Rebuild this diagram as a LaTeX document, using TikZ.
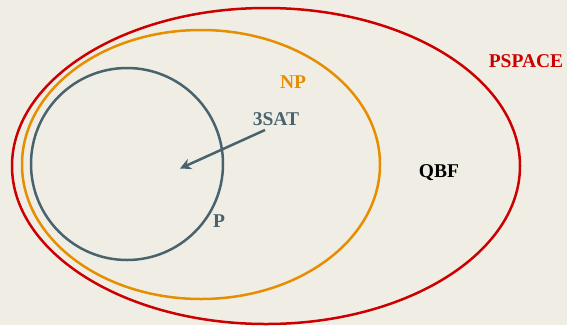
\documentclass[tikz,border=0pt]{standalone}
\usepackage{fontspec}
\setmainfont{Liberation Serif}
\usetikzlibrary{arrows.meta}
\definecolor{bg}{RGB}{240,238,228}
\definecolor{cred}{RGB}{204,0,0}
\definecolor{corange}{RGB}{230,142,0}
\definecolor{cslate}{RGB}{72,98,110}
\begin{document}
\begin{tikzpicture}[x=1pt,y=-1pt,
  lbl/.style={font=\fontsize{19.5}{21}\selectfont\bfseries, inner sep=0pt},
  set/.style={line width=2.5pt}]
\fill[bg] (0,0) rectangle (567,325);
\useasboundingbox (0,0) rectangle (567,325);
\draw[set,cred] (266,166) ellipse [x radius=254, y radius=158];
\draw[set,corange] (201,164.5) ellipse [x radius=179, y radius=134.5];
\draw[set,cslate] (127,164) circle [radius=96];
\node[lbl,text=cred] (pspace) at (526,61) {PSPACE};
\node[lbl,text=corange] (np) at (293,82) {NP};
\node[lbl,text=cslate] (sat) at (276,119) {3SAT};
\node[lbl,text=black] (qbf) at (439,173) {QBF};
\node[lbl,text=cslate] (p) at (219,221) {P};
\coordinate (tip) at (180,168.5);
\coordinate (start) at (265,130);
\draw[cslate,line width=2.5pt,-{Stealth[length=11pt,width=11pt]}] (start) -- (tip);
\end{tikzpicture}
\end{document}
